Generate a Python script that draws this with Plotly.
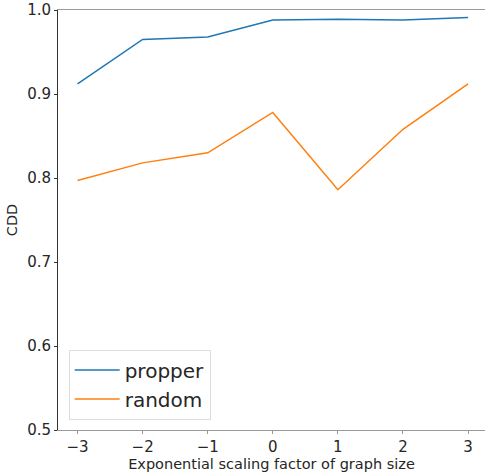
import plotly.graph_objects as go

x_vals = [-3, -2, -1, 0, 1, 2, 3]
propper = [0.912, 0.965, 0.968, 0.988, 0.989, 0.988, 0.991]
random_vals = [0.797, 0.818, 0.830, 0.878, 0.786, 0.858, 0.912]
x_ticks = [-3, -2, -1, 0, 1, 2, 3]
x_tick_text = ["\u22123", "\u22122", "\u22121", "0", "1", "2", "3"]
y_ticks = [0.5, 0.6, 0.7, 0.8, 0.9, 1.0]
y_tick_text = ["0.5", "0.6", "0.7", "0.8", "0.9", "1.0"]

fig = go.Figure()
fig.add_trace(go.Scatter(x=x_vals, y=propper, mode="lines", name="propper",
                         line=dict(color="#1f77b4", width=1.5)))
fig.add_trace(go.Scatter(x=x_vals, y=random_vals, mode="lines", name="random",
                         line=dict(color="#ff7f0e", width=1.5)))

font = "DejaVu Sans, sans-serif"
fig.update_layout(
    width=485, height=473,
    margin=dict(l=58, r=0, t=10, b=43),
    paper_bgcolor="white", plot_bgcolor="white",
    font=dict(family=font, size=14, color="#262626"),
    showlegend=True,
    legend=dict(x=0.025, y=0.025, xanchor="left", yanchor="bottom",
                bgcolor="rgba(255,255,255,0.8)", bordercolor="#dddddd", borderwidth=1,
                font=dict(size=20, color="#262626"), itemwidth=45),
    xaxis=dict(range=[-3.3, 3.26], tickvals=x_ticks, ticktext=x_tick_text,
               tickfont=dict(size=15),
               showgrid=False, zeroline=False, showline=True, linecolor="#999999",
               linewidth=1, mirror=True, ticks="outside", ticklen=3, tickcolor="#999999",
               title=dict(text="Exponential scaling factor of graph size", font=dict(size=14.5), standoff=3)),
    yaxis=dict(range=[0.5, 1.0], tickvals=y_ticks, ticktext=y_tick_text,
               tickfont=dict(size=15),
               showgrid=False, zeroline=False, showline=True, linecolor="#333333",
               linewidth=1, ticks="outside", ticklen=3, tickcolor="#333333",
               title=dict(text="CDD", font=dict(size=14.5), standoff=6)),
)
fig.write_html("out.html")
